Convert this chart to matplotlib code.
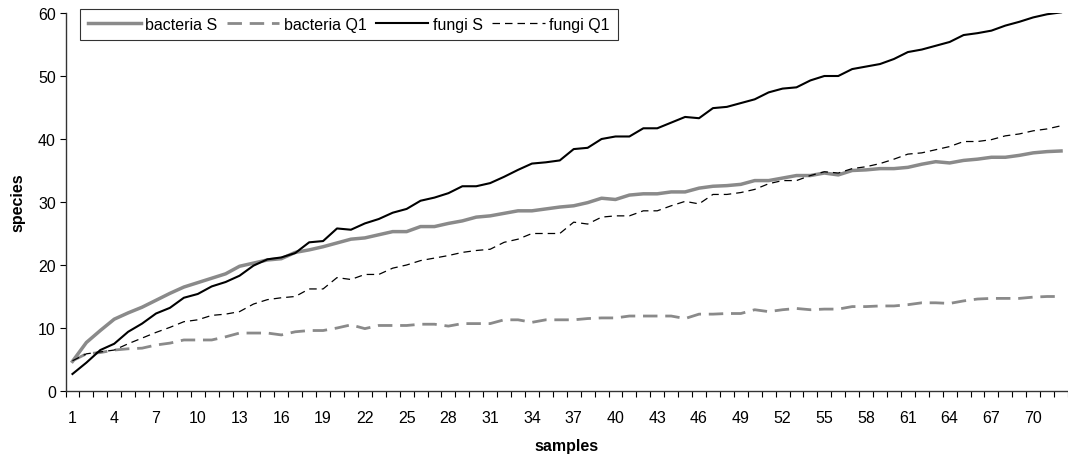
import numpy as np
import matplotlib
matplotlib.use('Agg')
import matplotlib.pyplot as plt

plt.rcParams['font.family'] = ['Liberation Sans', 'DejaVu Sans']

# Species accumulation data
samples = np.arange(1, 73)

bacteria_S = [4.7, 7.7, 9.6, 11.4, 12.4, 13.3, 14.4, 15.5, 16.5, 17.2,
              17.9, 18.6, 19.8, 20.3, 20.8, 21.0, 22.0, 22.4, 22.9, 23.5,
              24.1, 24.3, 24.8, 25.3, 25.3, 26.1, 26.1, 26.6, 27.0, 27.6,
              27.8, 28.2, 28.6, 28.6, 28.9, 29.2, 29.4, 29.9, 30.6, 30.4,
              31.1, 31.3, 31.3, 31.6, 31.6, 32.2, 32.5, 32.6, 32.8, 33.4,
              33.4, 33.8, 34.2, 34.2, 34.6, 34.3, 35.0, 35.1, 35.3, 35.3,
              35.5, 36.0, 36.4, 36.2, 36.6, 36.8, 37.1, 37.1, 37.4, 37.8,
              38.0, 38.1]

bacteria_Q1 = [4.8, 5.9, 6.1, 6.5, 6.7, 6.8, 7.3, 7.6, 8.1, 8.1,
               8.1, 8.6, 9.2, 9.2, 9.2, 8.9, 9.4, 9.6, 9.6, 10.0,
               10.5, 9.9, 10.4, 10.4, 10.4, 10.6, 10.6, 10.3, 10.7, 10.7,
               10.7, 11.3, 11.3, 10.9, 11.3, 11.3, 11.3, 11.5, 11.6, 11.6,
               11.9, 11.9, 11.9, 11.9, 11.5, 12.2, 12.2, 12.3, 12.3, 12.9,
               12.6, 12.9, 13.1, 12.9, 13.0, 13.0, 13.4, 13.4, 13.5, 13.5,
               13.7, 14.0, 14.0, 13.9, 14.3, 14.6, 14.7, 14.7, 14.7, 14.9,
               15.0, 15.0]

fungi_S = [2.7, 4.5, 6.5, 7.5, 9.4, 10.7, 12.3, 13.2, 14.8, 15.4,
           16.6, 17.3, 18.3, 19.9, 20.9, 21.2, 21.9, 23.6, 23.8, 25.8,
           25.6, 26.6, 27.3, 28.3, 28.9, 30.2, 30.7, 31.4, 32.5, 32.5,
           33.0, 34.0, 35.1, 36.1, 36.3, 36.6, 38.4, 38.6, 40.0, 40.4,
           40.4, 41.7, 41.7, 42.6, 43.5, 43.3, 44.9, 45.1, 45.7, 46.3,
           47.4, 48.0, 48.2, 49.3, 50.0, 50.0, 51.1, 51.5, 51.9, 52.7,
           53.8, 54.2, 54.8, 55.4, 56.5, 56.8, 57.2, 58.0, 58.6, 59.3,
           59.8, 60.1]

fungi_Q1 = [4.8, 5.9, 6.2, 6.5, 7.5, 8.4, 9.3, 10.1, 11.0, 11.3,
            12.0, 12.2, 12.6, 13.8, 14.5, 14.8, 15.0, 16.2, 16.2, 18.0,
            17.7, 18.5, 18.5, 19.5, 20.0, 20.7, 21.1, 21.5, 22.0, 22.3,
            22.5, 23.6, 24.1, 25.0, 25.0, 25.0, 26.8, 26.5, 27.6, 27.8,
            27.8, 28.6, 28.6, 29.4, 30.1, 29.7, 31.2, 31.2, 31.5, 32.0,
            32.9, 33.4, 33.4, 34.2, 34.8, 34.6, 35.3, 35.6, 36.1, 36.8,
            37.6, 37.8, 38.3, 38.8, 39.6, 39.6, 39.9, 40.5, 40.8, 41.3,
            41.6, 42.1]

W, H = 1068, 456
fig = plt.figure(figsize=(W / 100, H / 100), dpi=100)
ax = fig.add_axes([65.5 / W, (H - 392) / H, (W - 65.5) / W, (392 - 14) / H])

fs = 11.5
gray = '#8a8a8a'
ax.plot(samples, bacteria_S, color=gray, lw=2.5, label='bacteria S',
        solid_joinstyle='round')
ax.plot(samples, bacteria_Q1, color=gray, lw=2.0, dashes=(5.2, 2.8),
        label='bacteria Q1')
ax.plot(samples, fungi_S, color='black', lw=1.5, label='fungi S')
ax.plot(samples, fungi_Q1, color='black', lw=0.9, dashes=(6, 4),
        label='fungi Q1')

ax.set_xlim(0.5, 72.5)
ax.set_ylim(0, 60)
ax.set_yticks(np.arange(0, 61, 10))
ax.set_xticks(np.arange(1, 73, 3))
ax.set_xticks(np.arange(0.5, 73, 1), minor=True)
ax.tick_params(axis='x', which='major', length=0, pad=13.5, labelsize=fs)
ax.tick_params(axis='x', which='minor', length=4, width=0.8, direction='out')
ax.tick_params(axis='y', length=4, width=0.8, pad=3, labelsize=fs)

for side in ('top', 'right'):
    ax.spines[side].set_visible(False)
for side in ('left', 'bottom'):
    ax.spines[side].set_linewidth(1.0)
    ax.spines[side].set_color('#333333')

ax.set_xlabel('samples', fontweight='bold', fontsize=fs, labelpad=9.5)
ax.set_ylabel('species', fontweight='bold', fontsize=fs, labelpad=9)

leg = ax.legend(loc='upper left', bbox_to_anchor=(80 / W, 1 - 10 / H),
                bbox_transform=fig.transFigure, ncol=4, frameon=True,
                fancybox=False, edgecolor='black', fontsize=fs,
                handlelength=3.3, handletextpad=0.3, columnspacing=0.55,
                borderpad=0.5, borderaxespad=0)
leg.get_frame().set_linewidth(0.8)

fig.savefig('out.png', dpi=100)
